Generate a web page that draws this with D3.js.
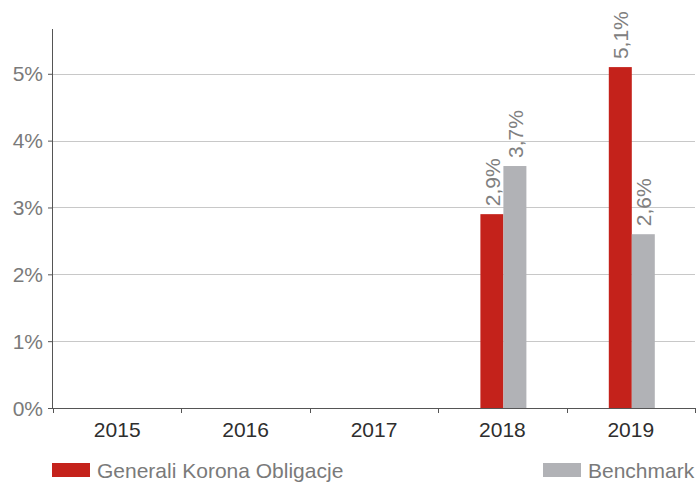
<!DOCTYPE html>
<html>
<head>
<meta charset="utf-8">
<script src="https://cdn.jsdelivr.net/npm/d3@7"></script>
<style>
  body { margin: 0; background: #fff; }
  text { font-family: "Liberation Sans", Arial, sans-serif; }
</style>
</head>
<body>
<div id="chart"></div>
<script>
const years = ["2015", "2016", "2017", "2018", "2019"];
const seriesNames = ["Generali Korona Obligacje", "Benchmark"];
const fundValues = [null, null, null, 2.9, 5.1];
const benchValues = [null, null, null, 3.62, 2.6];
const fundLabels = [null, null, null, "2,9%", "5,1%"];
const benchLabels = [null, null, null, "3,7%", "2,6%"];
const yTicks = [0, 1, 2, 3, 4, 5];
const colors = ["#c4221b", "#b1b2b6"];

function drawChart() {
    const W = 697, H = 482;
    const margin = {top: 29, right: 2, bottom: 74, left: 53},
        width = W - margin.left - margin.right,
        height = H - margin.top - margin.bottom;

    const svg = d3.select("#chart")
        .append("svg")
        .attr("width", W)
        .attr("height", H);

    const g = svg.append("g")
        .attr("transform", `translate(${margin.left}, ${margin.top})`);

    const x = d3.scaleBand()
        .domain(years)
        .range([0, width]);

    const y = d3.scaleLinear()
        .domain([0, 5.67])
        .range([height, 0]);

    // gridlines
    g.append("g")
        .selectAll("line")
        .data(yTicks.filter(d => d > 0))
        .join("line")
        .attr("x1", 0)
        .attr("x2", width)
        .attr("y1", d => Math.round(y(d)) + 0.5)
        .attr("y2", d => Math.round(y(d)) + 0.5)
        .attr("stroke", "#c8c8c8")
        .attr("stroke-width", 1);

    // bars
    const barW = 23;
    const series = [
        {values: fundValues, labels: fundLabels, color: colors[0], off: -barW + 1},
        {values: benchValues, labels: benchLabels, color: colors[1], off: 1}
    ];
    series.forEach(s => {
        const data = years.map((yr, i) => ({year: yr, v: s.values[i], label: s.labels[i]}))
            .filter(d => d.v !== null);
        g.selectAll(null)
            .data(data)
            .join("rect")
            .attr("x", d => x(d.year) + x.bandwidth() / 2 + s.off)
            .attr("y", d => y(d.v))
            .attr("width", barW)
            .attr("height", d => y(0) - y(d.v))
            .attr("fill", s.color);

        g.selectAll(null)
            .data(data)
            .join("text")
            .attr("transform", d => {
                const cx = x(d.year) + x.bandwidth() / 2 + s.off + barW / 2 + 8;
                return `translate(${cx}, ${y(d.v) - 8}) rotate(-90)`;
            })
            .attr("fill", "#808080")
            .style("font-size", "21px")
            .text(d => d.label);
    });

    // y axis
    const yAxis = g.append("g")
        .call(d3.axisLeft(y).tickValues(yTicks).tickSize(5).tickPadding(5).tickFormat(d => d + "%"));
    yAxis.select(".domain").attr("stroke", "#555").attr("d", `M-0.5,${height}V0`);
    yAxis.selectAll(".tick line").attr("stroke", "#555");
    yAxis.selectAll(".tick text")
        .attr("fill", "#7a7a7a")
        .style("font-size", "21px")
        .attr("dy", "0.34em");

    // x axis
    const xAxis = g.append("g")
        .attr("transform", `translate(0, ${height})`)
        .call(d3.axisBottom(x).tickSize(0).tickPadding(14));
    xAxis.select(".domain").attr("stroke", "#555").attr("d", `M0,0.5H${width}`);
    xAxis.selectAll(".tick text")
        .attr("fill", "#2e2e2e")
        .style("font-size", "21px");
    xAxis.selectAll(null)
        .data(years.map(d => x(d)).concat([width]))
        .join("line")
        .attr("x1", d => Math.round(d) + 0.5)
        .attr("x2", d => Math.round(d) + 0.5)
        .attr("y1", 0)
        .attr("y2", 5)
        .attr("stroke", "#555");

    // legend
    const legendPos = [52, 543];
    seriesNames.forEach((name, i) => {
        const lg = svg.append("g").attr("transform", `translate(${legendPos[i]}, 463)`);
        lg.append("rect")
            .attr("width", 38)
            .attr("height", 14)
            .attr("fill", colors[i]);
        lg.append("text")
            .attr("x", 45)
            .attr("y", 15)
            .attr("fill", "#7a7a7a")
            .style("font-size", "21px")
            .text(name);
    });
}
drawChart();
</script>
</body>
</html>
